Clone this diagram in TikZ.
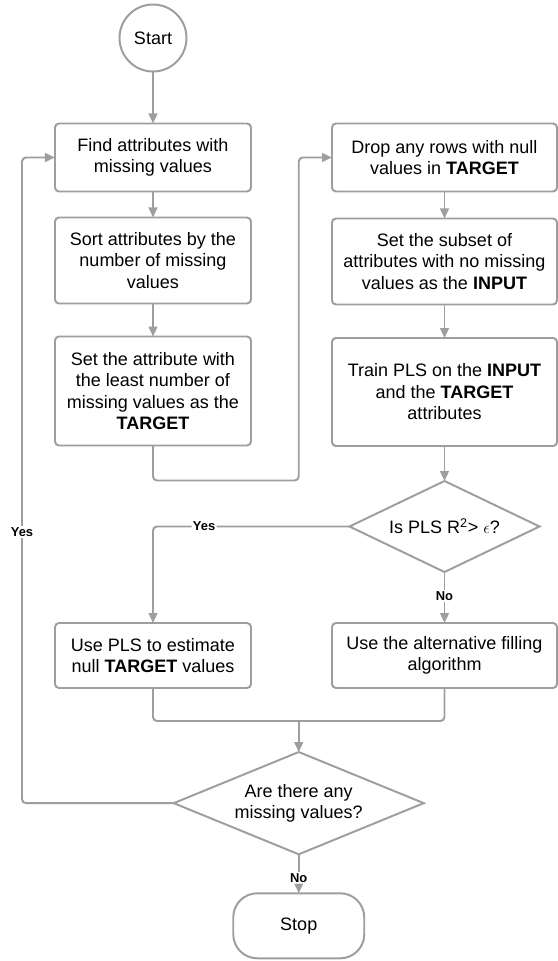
\documentclass[tikz,border=0pt]{standalone}
\usepackage{fontspec}
\setmainfont{Liberation Sans}
\usepackage{tikz}
\usetikzlibrary{shapes.geometric, positioning, arrows.meta, calc}
\definecolor{flowgray}{RGB}{158,158,158}

\begin{document}
\begin{tikzpicture}[
        node distance=1cm and 2cm,
        every node/.style={font=\fontsize{12.8}{15.3}\selectfont, align=center},
        startnode/.style={circle, draw=flowgray, line width=1.4pt, minimum size=1.675cm, inner sep=0pt, outer sep=0pt},
        terminal/.style={rectangle, draw=flowgray, line width=1.4pt, rounded corners=0.6cm, minimum width=3.275cm, minimum height=1.625cm, inner sep=0pt, outer sep=0pt},
        process/.style={rectangle, draw=flowgray, line width=1.4pt, rounded corners=0.1cm, minimum width=4.9cm, inner sep=0pt, outer sep=0pt},
        wideprocess/.style={process, minimum width=5.625cm},
        decision/.style={diamond, draw=flowgray, line width=1.4pt, aspect=2, inner sep=0pt, outer sep=0pt},
        arrow/.style={-{Triangle[length=0.25cm, width=0.22cm]}, draw=flowgray, line width=1.4pt, rounded corners=0.1cm},
        line/.style={-, draw=flowgray, line width=1.4pt, rounded corners=0.1cm},
        answer/.style={font=\fontsize{9.2}{11}\selectfont\bfseries, fill=white, inner sep=1pt}
    ]
    \useasboundingbox (-3.825,0.95) rectangle (10.125,-23.075);
%
    % Start and left column
    \node[startnode] (start) at (0,0) {Start};
    \node[process, minimum height=1.7cm, below=1.3cm of start] (find) {Find attributes with\\missing values};
    \node[process, minimum height=2.15cm, below=0.65cm of find] (sort) {Sort attributes by the\\number of missing\\values};
    \node[process, minimum height=2.725cm, below=0.825cm of sort] (least) {Set the attribute with\\the least number of\\missing values as the\\\textbf{TARGET}};
%
    % Right column
    \node[wideprocess, minimum height=1.7cm, right=2.025cm of find] (drop) {Drop any rows with null\\values in \textbf{TARGET}};
    \node[wideprocess, minimum height=2.15cm, below=0.675cm of drop] (subset) {Set the subset of\\attributes with no missing\\values as the \textbf{INPUT}};
    \node[wideprocess, minimum height=2.7cm, below=0.8375cm of subset] (train) {Train PLS on the \textbf{INPUT}\\and the \textbf{TARGET}\\attributes};
    \node[decision, minimum width=4.75cm, minimum height=2.275cm, below=0.875cm of train] (plsok) {Is PLS R\textsuperscript{2}> $\epsilon$?};
%
    % Filling
    \node[wideprocess, minimum height=1.625cm, below=1.275cm of plsok] (alt) {Use the alternative filling\\algorithm};
    \node[process, minimum height=1.625cm, left=2.025cm of alt] (estimate) {Use PLS to estimate\\null \textbf{TARGET} values};
%
    % Check and stop
    \coordinate (join) at ($(estimate.south)!0.5!(alt.south)+(0,-0.825)$);
    \node[decision, minimum width=6.25cm, minimum height=2.55cm, below=0.775cm of join] (anymissing) {Are there any\\missing values?};
    \node[terminal, below=0.975cm of anymissing] (stop) {Stop};
%
    % Lines left column
    \draw[arrow] (start) -- (find);
    \draw[arrow] (find) -- (sort);
    \draw[arrow] (sort) -- (least);
    \coordinate (midcol) at ($(find.center)!0.5!(drop.center)$);
    \draw[arrow] (least.south) -- ++(0,-0.875) -| (midcol) -- (drop.west);
%
    % Lines right column
    \draw[arrow] (drop) -- (subset);
    \draw[arrow] (subset) -- (train);
    \draw[arrow] (train) -- (plsok);
    \draw[arrow] (plsok.west) -| node[answer, pos=0.37] {Yes} (estimate.north);
    \draw[arrow] (plsok.south) -- node[answer, pos=0.47] {No} (alt.north);
%
    % Lines to the end
    \draw[line] (estimate.south) |- (join);
    \draw[line] (alt.south) |- (join);
    \draw[arrow] (join) -- (anymissing.north);
    \coordinate (loop) at ($(find.west)+(-0.825,0)$);
    \draw[arrow] (anymissing.west) -| node[answer, pos=0.71] {Yes} (loop) -- (find.west);
    \draw[arrow] (anymissing.south) -- node[answer, pos=0.6] {No} (stop.north);
%
\end{tikzpicture}
\end{document}
